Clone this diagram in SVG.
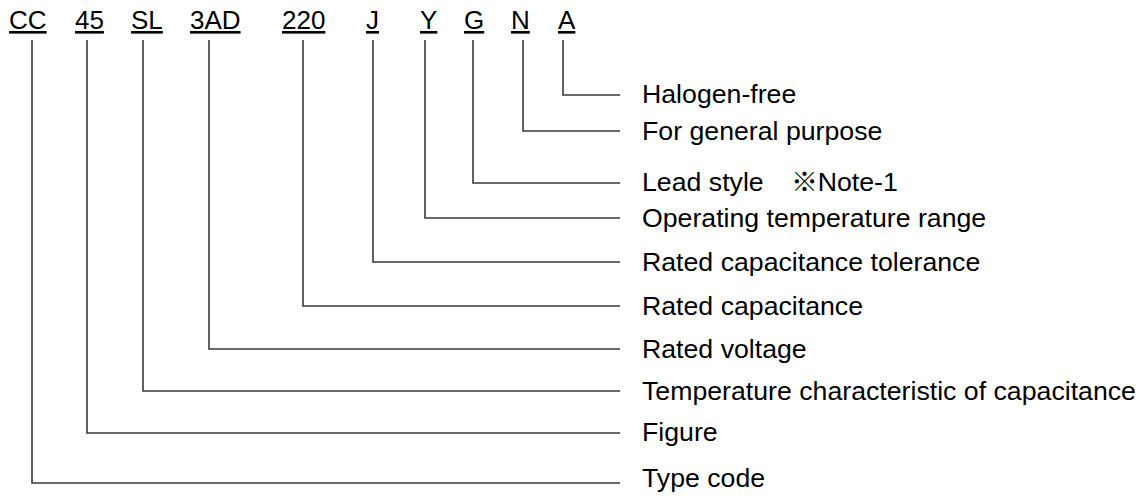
<svg xmlns="http://www.w3.org/2000/svg" width="1145" height="496" viewBox="0 0 1145 496">
<style>
.code{font-family:"Liberation Sans",Arial,sans-serif;font-size:26px;fill:#000;text-decoration:underline;}
.lbl{font-family:"Liberation Sans",Arial,sans-serif;font-size:26.7px;fill:#000;}
.conn{fill:none;stroke:#3a3a3a;stroke-width:1.6;}
</style>
<rect width="1145" height="496" fill="#fff"/>
<g id="codes">
<g id="code-CC"><text class="code" x="9" y="29">CC</text></g>
<g id="code-45"><text class="code" x="75" y="29">45</text></g>
<g id="code-SL"><text class="code" x="131" y="29">SL</text></g>
<g id="code-3AD"><text class="code" x="190" y="29">3AD</text></g>
<g id="code-220"><text class="code" x="282" y="29">220</text></g>
<g id="code-J"><text class="code" x="366" y="29">J</text></g>
<g id="code-Y"><text class="code" x="420" y="29">Y</text></g>
<g id="code-G"><text class="code" x="464" y="29">G</text></g>
<g id="code-N"><text class="code" x="511" y="29">N</text></g>
<g id="code-A"><text class="code" x="558" y="29">A</text></g>
</g>
<g id="connectors">
<polyline class="conn" points="563,40 563,95 620,95"/>
<polyline class="conn" points="523,40 523,131 620,131"/>
<polyline class="conn" points="473,40 473,183 620,183"/>
<polyline class="conn" points="425,40 425,218 620,218"/>
<polyline class="conn" points="373,40 373,262 620,262"/>
<polyline class="conn" points="303,40 303,306 620,306"/>
<polyline class="conn" points="209,40 209,349 620,349"/>
<polyline class="conn" points="143,40 143,391 620,391"/>
<polyline class="conn" points="87,40 87,433 620,433"/>
<polyline class="conn" points="32,40 32,483 620,483"/>
</g>
<g id="labels">
<g id="lbl-A"><text class="lbl" x="642" y="103">Halogen-free</text></g>
<g id="lbl-N"><text class="lbl" x="642" y="140">For general purpose</text></g>
<g id="lbl-G"><text class="lbl" x="642" y="191">Lead style　※Note-1</text></g>
<g id="lbl-Y"><text class="lbl" x="642" y="227">Operating temperature range</text></g>
<g id="lbl-J"><text class="lbl" x="642" y="271">Rated capacitance tolerance</text></g>
<g id="lbl-220"><text class="lbl" x="642" y="315">Rated capacitance</text></g>
<g id="lbl-3AD"><text class="lbl" x="642" y="358">Rated voltage</text></g>
<g id="lbl-SL"><text class="lbl" x="642" y="400">Temperature characteristic of capacitance</text></g>
<g id="lbl-45"><text class="lbl" x="642" y="441">Figure</text></g>
<g id="lbl-CC"><text class="lbl" x="642" y="487">Type code</text></g>
</g>
</svg>
